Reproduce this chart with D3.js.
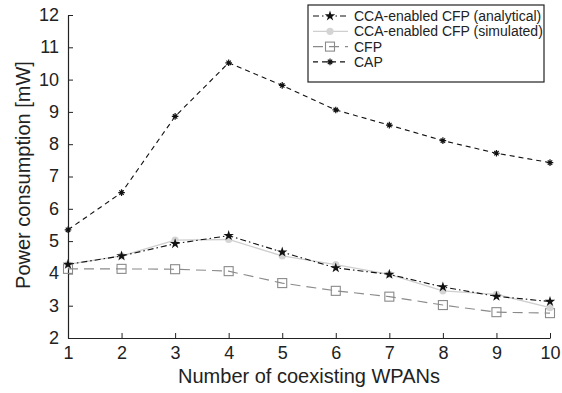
<!DOCTYPE html>
<html><head><meta charset="utf-8">
<script src="https://cdn.jsdelivr.net/npm/d3@7/dist/d3.min.js"></script>
<style>body{margin:0;background:#fff}svg{display:block}text{font-family:"Liberation Sans",Arial,sans-serif}</style>
</head><body><svg id="c" width="562" height="393"></svg>
<script>
const xValues = [1,2,3,4,5,6,7,8,9,10];
const analytical = [4.28,4.54,4.92,5.17,4.66,4.17,3.97,3.58,3.29,3.13];
const simulated  = [4.28,4.54,5.03,5.05,4.54,4.27,3.97,3.46,3.35,2.94];
const cfp        = [4.14,4.14,4.13,4.07,3.70,3.46,3.28,3.02,2.80,2.77];
const cap        = [5.35,6.50,8.86,10.52,9.82,9.06,8.59,8.11,7.72,7.43];
const yTicks = [2,3,4,5,6,7,8,9,10,11,12];
const seriesNames = ["CCA-enabled CFP (analytical)","CCA-enabled CFP (simulated)","CFP","CAP"];

const svg = d3.select("#c");
const x = d3.scaleLinear().domain([1,10]).range([68,550]);
const y = d3.scaleLinear().domain([2,12]).range([338,15]);

// axes
const gx = svg.append("g").attr("transform","translate(0,338)")
  .call(d3.axisBottom(x).tickValues(xValues).tickSizeInner(-5).tickSizeOuter(0).tickPadding(8));
const gy = svg.append("g").attr("transform","translate(68,0)")
  .call(d3.axisLeft(y).tickValues(yTicks).tickSizeInner(-5).tickSizeOuter(0).tickPadding(9));
[gx,gy].forEach(g=>{
  g.selectAll("path.domain").attr("stroke","#222").attr("stroke-width",1.2);
  g.selectAll(".tick line").attr("stroke","#222");
  g.selectAll(".tick text").attr("font-size",18).attr("fill","#222")
    .attr("font-family",'"Liberation Sans",Arial,sans-serif');
});
gy.selectAll(".tick text").attr("dy","0.3em");

svg.append("text").attr("x",309).attr("y",383).attr("text-anchor","middle")
  .attr("font-size",20).attr("fill","#222").text("Number of coexisting WPANs");
svg.append("text").attr("transform","translate(30,175) rotate(-90)").attr("text-anchor","middle")
  .attr("font-size",20).attr("fill","#222").text("Power consumption [mW]");

const line = d3.line().x((d,i)=>x(xValues[i])).y(d=>y(d));

const styles = [
  {data:analytical, stroke:"#111", dash:"6,3,1.5,3", w:1.1, marker:"star"},
  {data:simulated, stroke:"#cfcfcf", dash:null, w:1.3, marker:"circle"},
  {data:cfp, stroke:"#8a8a8a", dash:"10,6", w:1.1, marker:"square"},
  {data:cap, stroke:"#111", dash:"5,4", w:1.1, marker:"asterisk"}
];

function drawMarker(g, type, cx, cy){
  if(type==="star"){
    g.append("path").attr("d", d3.symbol().type(d3.symbolStar).size(34)())
      .attr("transform",`translate(${cx},${cy})`).attr("fill","#111");
  } else if(type==="circle"){
    g.append("circle").attr("cx",cx).attr("cy",cy).attr("r",3.6).attr("fill","#d4d4d4");
  } else if(type==="square"){
    g.append("rect").attr("x",cx-4.5).attr("y",cy-4.5).attr("width",9).attr("height",9)
      .attr("fill","none").attr("stroke","#8a8a8a").attr("stroke-width",1.1);
  } else {
    const s=3.3;
    g.append("path").attr("d",`M${cx-s},${cy}H${cx+s}M${cx},${cy-s}V${cy+s}M${cx-2.2},${cy-2.2}L${cx+2.2},${cy+2.2}M${cx-2.2},${cy+2.2}L${cx+2.2},${cy-2.2}`)
      .attr("stroke","#111").attr("stroke-width",1.2);
  }
}

// draw in order: CFP, CAP, simulated, analytical
[2,3,1,0].forEach(k=>{
  const s = styles[k];
  const g = svg.append("g");
  g.append("path").attr("d",line(s.data)).attr("fill","none").attr("stroke",s.stroke)
    .attr("stroke-width",s.w).attr("stroke-dasharray",s.dash);
  s.data.forEach((d,i)=>drawMarker(g,s.marker,x(xValues[i]),y(d)));
});

// legend
const lg = svg.append("g");
lg.append("rect").attr("x",308).attr("y",5).attr("width",236).attr("height",77)
  .attr("fill","#fff").attr("stroke","#222").attr("stroke-width",1.2);
seriesNames.forEach((name,i)=>{
  const ly = 16 + i*15.3;
  const s = styles[i];
  lg.append("line").attr("x1",313).attr("x2",348).attr("y1",ly).attr("y2",ly)
    .attr("stroke",s.stroke).attr("stroke-width",s.w).attr("stroke-dasharray",s.dash);
  drawMarker(lg,s.marker,330,ly);
  lg.append("text").attr("x",354).attr("y",ly).attr("dy","0.35em").attr("font-size",14)
    .attr("fill","#222").text(name);
});
</script></body></html>
